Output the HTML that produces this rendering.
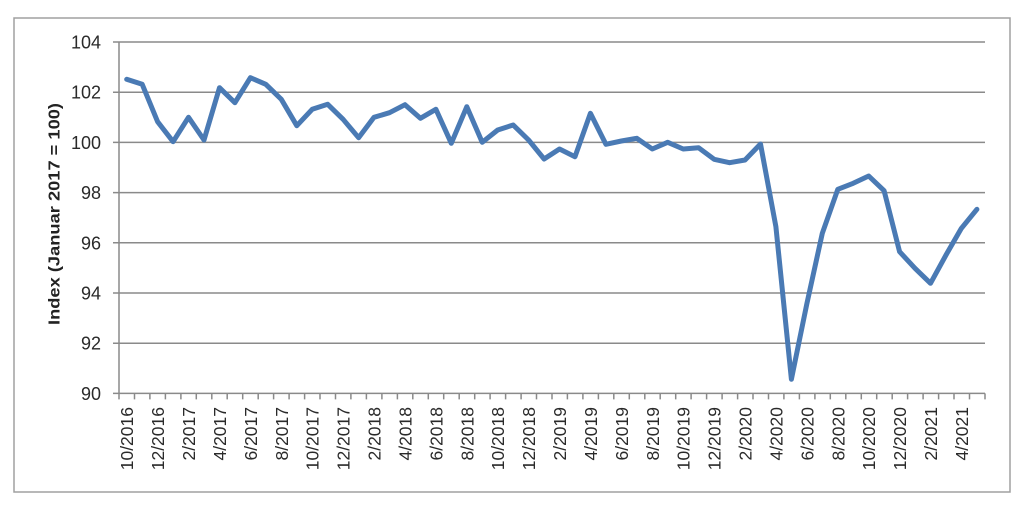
<!DOCTYPE html>
<html><head><meta charset="utf-8"><style>
html,body{margin:0;padding:0;background:#fff;}
svg{display:block;}
text{font-family:"Liberation Sans",sans-serif;fill:#2a2a2a;}
</style></head><body>
<svg width="1024" height="508" viewBox="0 0 1024 508" xmlns="http://www.w3.org/2000/svg">
<rect x="0" y="0" width="1024" height="508" fill="#fff"/>
<rect x="14" y="18" width="996" height="474" fill="#fff" stroke="#a0a0a0" stroke-width="1.5"/>
<!-- gridlines -->
<g stroke="#8a8a8a" stroke-width="1.5" fill="none">
<path d="M113 42H985M113 92.2H985M113 142.4H985M113 192.6H985M113 242.8H985M113 293H985M113 343.2H985M113 393.4H985"/>
<path d="M119 42V393.4"/>
<path d="M119 393.4v6M134.5 393.4v6M149.9 393.4v6M165.4 393.4v6M180.9 393.4v6M196.3 393.4v6M211.8 393.4v6M227.2 393.4v6M242.7 393.4v6M258.2 393.4v6M273.6 393.4v6M289.1 393.4v6M304.6 393.4v6M320 393.4v6M335.5 393.4v6M350.9 393.4v6M366.4 393.4v6M381.9 393.4v6M397.4 393.4v6M412.8 393.4v6M428.3 393.4v6M443.7 393.4v6M459.2 393.4v6M474.7 393.4v6M490.1 393.4v6M505.6 393.4v6M521.1 393.4v6M536.5 393.4v6M552 393.4v6M567.4 393.4v6M582.9 393.4v6M598.4 393.4v6M613.8 393.4v6M629.3 393.4v6M644.8 393.4v6M660.2 393.4v6M675.7 393.4v6M691.1 393.4v6M706.6 393.4v6M722.1 393.4v6M737.6 393.4v6M753 393.4v6M768.5 393.4v6M783.9 393.4v6M799.4 393.4v6M814.9 393.4v6M830.3 393.4v6M845.8 393.4v6M861.3 393.4v6M876.7 393.4v6M892.2 393.4v6M907.6 393.4v6M923.1 393.4v6M938.6 393.4v6M954 393.4v6M969.5 393.4v6M985 393.4v6"/>
</g>
<!-- y tick labels -->
<g font-size="18" text-anchor="end">
<text x="101" y="48.5">104</text>
<text x="101" y="98.7">102</text>
<text x="101" y="148.9">100</text>
<text x="101" y="199.1">98</text>
<text x="101" y="249.3">96</text>
<text x="101" y="299.5">94</text>
<text x="101" y="349.7">92</text>
<text x="101" y="399.9">90</text>
</g>
<text transform="translate(59.5,214) rotate(-90)" font-size="16" font-weight="bold" text-anchor="middle" textLength="222" lengthAdjust="spacingAndGlyphs" style="fill:#222">Index (Januar 2017 = 100)</text>
<!-- x labels -->
<g font-size="17.5" text-anchor="end">
<text transform="translate(133.2,407) rotate(-90)">10/2016</text>
<text transform="translate(164.1,407) rotate(-90)">12/2016</text>
<text transform="translate(195,407) rotate(-90)">2/2017</text>
<text transform="translate(226,407) rotate(-90)">4/2017</text>
<text transform="translate(256.9,407) rotate(-90)">6/2017</text>
<text transform="translate(287.8,407) rotate(-90)">8/2017</text>
<text transform="translate(318.7,407) rotate(-90)">10/2017</text>
<text transform="translate(349.6,407) rotate(-90)">12/2017</text>
<text transform="translate(380.5,407) rotate(-90)">2/2018</text>
<text transform="translate(411.5,407) rotate(-90)">4/2018</text>
<text transform="translate(442.4,407) rotate(-90)">6/2018</text>
<text transform="translate(473.3,407) rotate(-90)">8/2018</text>
<text transform="translate(504.2,407) rotate(-90)">10/2018</text>
<text transform="translate(535.1,407) rotate(-90)">12/2018</text>
<text transform="translate(566,407) rotate(-90)">2/2019</text>
<text transform="translate(596.9,407) rotate(-90)">4/2019</text>
<text transform="translate(627.9,407) rotate(-90)">6/2019</text>
<text transform="translate(658.8,407) rotate(-90)">8/2019</text>
<text transform="translate(689.7,407) rotate(-90)">10/2019</text>
<text transform="translate(720.6,407) rotate(-90)">12/2019</text>
<text transform="translate(751.5,407) rotate(-90)">2/2020</text>
<text transform="translate(782.4,407) rotate(-90)">4/2020</text>
<text transform="translate(813.3,407) rotate(-90)">6/2020</text>
<text transform="translate(844.3,407) rotate(-90)">8/2020</text>
<text transform="translate(875.2,407) rotate(-90)">10/2020</text>
<text transform="translate(906.1,407) rotate(-90)">12/2020</text>
<text transform="translate(937,407) rotate(-90)">2/2021</text>
<text transform="translate(967.9,407) rotate(-90)">4/2021</text>
</g>
<!-- data line -->
<polyline fill="none" stroke="#4a7ab4" stroke-width="5" stroke-linejoin="round" stroke-linecap="round" points="126.7,79.3 142.2,84.3 157.6,121.7 173.1,141.7 188.5,117.3 204,140 219.5,87.7 234.9,102.7 250.4,77.7 265.8,84.3 281.3,99.3 296.8,125.7 312.2,109.3 327.7,104.3 343.1,119.3 358.6,137.7 374,117.3 389.5,112.7 405,104.7 420.4,118.3 435.9,109.3 451.3,143.3 466.8,106.7 482.2,142.3 497.7,130 513.2,125 528.6,140 544.1,159 559.5,149 575,156.7 590.4,113.3 605.9,144.3 621.4,141 636.8,138.3 652.3,149 667.7,142.3 683.2,149 698.6,147.7 714.1,159.3 729.6,162.7 745,160 760.5,144 775.9,226.7 791.4,379.3 806.8,304 822.3,233.3 837.8,189.3 853.2,183.3 868.7,176 884.1,190.7 899.6,251.7 915,268.3 930.5,283.3 946,255 961.4,228.3 976.9,209.3"/>
</svg>
</body></html>
